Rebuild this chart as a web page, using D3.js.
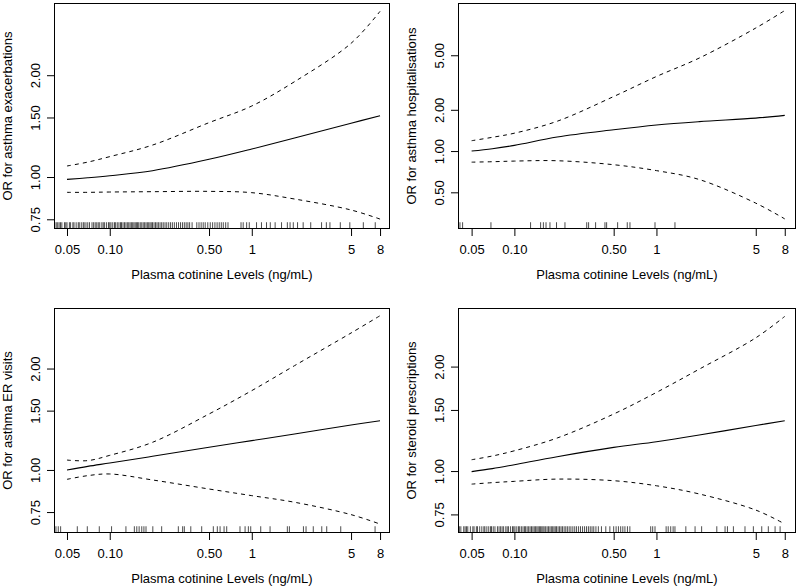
<!DOCTYPE html>
<html>
<head>
<meta charset="utf-8">
<script src="https://cdn.jsdelivr.net/npm/d3@7"></script>
<style>
  html, body { margin: 0; padding: 0; background: #fff; }
  svg { display: block; }
</style>
</head>
<body>
<script>
// ---------- DATA ----------
const xGrid = [0.05, 0.07, 0.1, 0.2, 0.5, 1, 2, 5, 8];
const xTicks = [0.05, 0.1, 0.5, 1, 5, 8];
const xTickLabels = ["0.05", "0.10", "0.50", "1", "5", "8"];
const xTitle = "Plasma cotinine Levels (ng/mL)";

// Panel 1: asthma exacerbations
const title1 = "OR for asthma exacerbations";
const fit1 = [0.984, 0.995, 1.009, 1.044, 1.128, 1.21, 1.305, 1.443, 1.518];
const hi1  = [1.078, 1.107, 1.149, 1.243, 1.448, 1.622, 1.914, 2.485, 3.09];
const lo1  = [0.901, 0.901, 0.903, 0.905, 0.907, 0.899, 0.861, 0.799, 0.751];
const yTicks1 = [0.75, 1.00, 1.50, 2.00];
const ylim1 = [0.702, 3.27];
const rug1 = [0.041, 0.042, 0.043, 0.044, 0.045, 0.046, 0.048, 0.049, 0.050, 0.052, 0.053, 0.055,
  0.056, 0.058, 0.060, 0.061, 0.063, 0.065, 0.066, 0.068, 0.070, 0.072, 0.075, 0.077, 0.079, 0.081,
  0.083, 0.085, 0.088, 0.090, 0.092, 0.095, 0.098, 0.100, 0.102, 0.105, 0.108, 0.110, 0.113, 0.116,
  0.119, 0.121, 0.124, 0.127, 0.130, 0.133, 0.136, 0.139, 0.142, 0.145, 0.148, 0.151, 0.154, 0.157,
  0.160, 0.164, 0.168, 0.172, 0.176, 0.180, 0.184, 0.188, 0.192, 0.196, 0.200, 0.205, 0.210, 0.215,
  0.220, 0.226, 0.232, 0.238, 0.245, 0.252, 0.260, 0.268, 0.276, 0.285, 0.295, 0.305, 0.315, 0.325,
  0.335, 0.345, 0.355, 0.365, 0.38, 0.41, 0.425, 0.44, 0.455, 0.47, 0.49, 0.51, 0.53, 0.55, 0.57,
  0.59, 0.61, 0.63, 0.655, 0.68,
  0.84, 0.87, 0.92, 0.96, 1.08, 1.17, 1.27, 1.35, 1.46, 1.62, 1.78, 1.86, 1.96, 2.1, 2.3, 2.6,
  3.1, 3.35, 3.55, 4.2, 4.9, 6.1, 7.4];

// Panel 2: asthma hospitalisations
const title2 = "OR for asthma hospitalisations";
const fit2 = [1.0, 1.04, 1.10, 1.265, 1.43, 1.55, 1.64, 1.74, 1.82];
const hi2  = [1.19, 1.26, 1.35, 1.65, 2.5, 3.5, 4.77, 7.9, 10.6];
const lo2  = [0.83, 0.836, 0.845, 0.85, 0.795, 0.72, 0.62, 0.417, 0.32];
const yTicks2 = [0.50, 1.00, 2.00, 5.00];
const ylim2 = [0.27, 12.03];
const rug2 = [0.0414, 0.0432, 0.0684, 0.130, 0.153, 0.160, 0.167, 0.178, 0.198, 0.227, 0.323,
  0.333, 0.373, 0.434, 0.446, 0.533, 0.623, 0.651, 0.977, 1.35];

// Panel 3: asthma ER visits
const title3 = "OR for asthma ER visits";
const fit3 = [1.0, 1.025, 1.049, 1.098, 1.168, 1.222, 1.279, 1.36, 1.40];
const hi3  = [1.07, 1.066, 1.105, 1.208, 1.466, 1.72, 2.04, 2.55, 2.87];
const lo3  = [0.938, 0.962, 0.973, 0.934, 0.878, 0.839, 0.802, 0.737, 0.691];
const yTicks3 = [0.75, 1.00, 1.50, 2.00];
const ylim3 = [0.650, 3.025];
const rug3 = [0.0418, 0.0434, 0.0451, 0.0591, 0.0695, 0.0844, 0.103, 0.130, 0.149, 0.155, 0.161,
  0.168, 0.174, 0.180, 0.201, 0.232, 0.304, 0.326, 0.335, 0.372, 0.444, 0.536, 0.572, 0.598, 0.638,
  0.666, 0.826, 0.897, 0.946, 0.983, 1.156, 1.345, 1.78, 1.84, 2.31, 2.41, 2.71, 3.11, 3.37, 4.23, 7.38];

// Panel 4: steroid prescriptions
const title4 = "OR for steroid prescriptions";
const fit4 = [0.996, 1.016, 1.043, 1.10, 1.17, 1.215, 1.27, 1.353, 1.396];
const hi4  = [1.078, 1.105, 1.144, 1.245, 1.46, 1.685, 1.966, 2.42, 2.79];
const lo4  = [0.917, 0.926, 0.934, 0.948, 0.938, 0.907, 0.859, 0.772, 0.704];
const yTicks4 = [0.75, 1.00, 1.50, 2.00];
const ylim4 = [0.663, 2.95];
const rug4 = [0.041, 0.042, 0.044, 0.045, 0.046, 0.047, 0.049, 0.051, 0.052, 0.054, 0.055, 0.057,
  0.059, 0.061, 0.062, 0.064, 0.066, 0.068, 0.069, 0.071, 0.073, 0.076, 0.078, 0.080, 0.082, 0.084,
  0.087, 0.089, 0.091, 0.094, 0.097, 0.099, 0.101, 0.104, 0.107, 0.109, 0.112, 0.115, 0.118, 0.120,
  0.123, 0.126, 0.129, 0.132, 0.135, 0.138, 0.141, 0.144, 0.147, 0.150, 0.153, 0.156, 0.159, 0.162,
  0.166, 0.170, 0.174, 0.178, 0.182, 0.186, 0.190, 0.194, 0.198, 0.203, 0.208, 0.213, 0.218, 0.224,
  0.230, 0.236, 0.243, 0.250, 0.258, 0.266, 0.274, 0.283, 0.292, 0.302, 0.312, 0.322, 0.332, 0.342,
  0.352, 0.362, 0.375, 0.39, 0.41, 0.44, 0.47, 0.50, 0.52, 0.54, 0.56, 0.58, 0.60, 0.625, 0.65,
  0.911, 0.941, 0.977, 1.17, 1.21, 1.26, 1.31, 1.35, 1.61, 1.87, 2.08, 2.66, 3.04, 3.16, 3.48, 4.2,
  4.81, 5.51, 6.13, 6.84, 7.42];

// ---------- LAYOUT ----------
const FONT = "'Liberation Sans', Arial, Helvetica, sans-serif";
const FS = 13;
const panels = [
  { title: title1, fit: fit1, hi: hi1, lo: lo1, yTicks: yTicks1, ylim: ylim1, rug: rug1,
    xlim: [0.0405, 9.4], left: 54, right: 390, top: 3, bottom: 229 },
  { title: title2, fit: fit2, hi: hi2, lo: lo2, yTicks: yTicks2, ylim: ylim2, rug: rug2,
    xlim: [0.0401, 9.6], left: 458, right: 796, top: 3, bottom: 229 },
  { title: title3, fit: fit3, hi: hi3, lo: lo3, yTicks: yTicks3, ylim: ylim3, rug: rug3,
    xlim: [0.0405, 9.4], left: 54, right: 390, top: 308, bottom: 533 },
  { title: title4, fit: fit4, hi: hi4, lo: lo4, yTicks: yTicks4, ylim: ylim4, rug: rug4,
    xlim: [0.0401, 9.6], left: 458, right: 796, top: 308, bottom: 533 }
];

const svg = d3.select("body").append("svg")
  .attr("width", 800).attr("height", 588)
  .style("font-family", FONT);

function drawPanel(p) {
  const x = d3.scaleLog().domain(p.xlim).range([p.left, p.right]);
  const y = d3.scaleLog().domain(p.ylim).range([p.bottom, p.top]);
  const g = svg.append("g");

  // rug
  const rugLen = 0.03 * (p.bottom - p.top);
  g.append("g").selectAll("line").data(p.rug).join("line")
    .attr("x1", d => x(d)).attr("x2", d => x(d))
    .attr("y1", p.bottom).attr("y2", p.bottom - rugLen)
    .attr("stroke", "#000").attr("stroke-width", 0.7);

  // curves
  const line = d3.line()
    .x((d, i) => x(xGrid[i]))
    .y(d => y(d))
    .curve(d3.curveCatmullRom.alpha(0.5));
  g.append("path").attr("d", line(p.hi)).attr("fill", "none")
    .attr("stroke", "#000").attr("stroke-width", 1).attr("stroke-dasharray", "4,4");
  g.append("path").attr("d", line(p.lo)).attr("fill", "none")
    .attr("stroke", "#000").attr("stroke-width", 1).attr("stroke-dasharray", "4,4");
  g.append("path").attr("d", line(p.fit)).attr("fill", "none")
    .attr("stroke", "#000").attr("stroke-width", 1.1);

  // x axis
  const xa = g.append("g").attr("transform", `translate(0,${p.bottom})`)
    .call(d3.axisBottom(x).tickValues(xTicks)
      .tickFormat((d, i) => xTickLabels[i]).tickSize(7).tickSizeOuter(0));
  xa.select(".domain").remove();
  xa.selectAll("line").attr("stroke", "#000");
  xa.selectAll("text").attr("y", 24.5).attr("dy", null)
    .attr("font-size", FS).attr("font-family", FONT).attr("fill", "#000");

  // y axis
  const ya = g.append("g").attr("transform", `translate(${p.left},0)`)
    .call(d3.axisLeft(y).tickValues(p.yTicks)
      .tickFormat(d3.format(".2f")).tickSize(7).tickSizeOuter(0));
  ya.select(".domain").remove();
  ya.selectAll("line").attr("stroke", "#000");
  ya.selectAll("text")
    .attr("transform", "rotate(-90)")
    .attr("x", 0).attr("y", -14.5).attr("dy", null)
    .attr("text-anchor", "middle")
    .attr("font-size", FS).attr("font-family", FONT).attr("fill", "#000");

  // box
  g.append("rect")
    .attr("x", p.left + 0.5).attr("y", p.top + 0.5)
    .attr("width", p.right - p.left - 1).attr("height", p.bottom - p.top - 1)
    .attr("fill", "none").attr("stroke", "#000").attr("stroke-width", 1);

  // titles
  g.append("text")
    .attr("x", (p.left + p.right) / 2).attr("y", p.bottom + 50)
    .attr("text-anchor", "middle").attr("font-size", FS).attr("fill", "#000")
    .text(xTitle);
  g.append("text")
    .attr("transform", `translate(${p.left - 42},${(p.top + p.bottom) / 2}) rotate(-90)`)
    .attr("text-anchor", "middle").attr("font-size", FS).attr("fill", "#000")
    .text(p.title);
}

panels.forEach(drawPanel);
</script>
</body>
</html>
